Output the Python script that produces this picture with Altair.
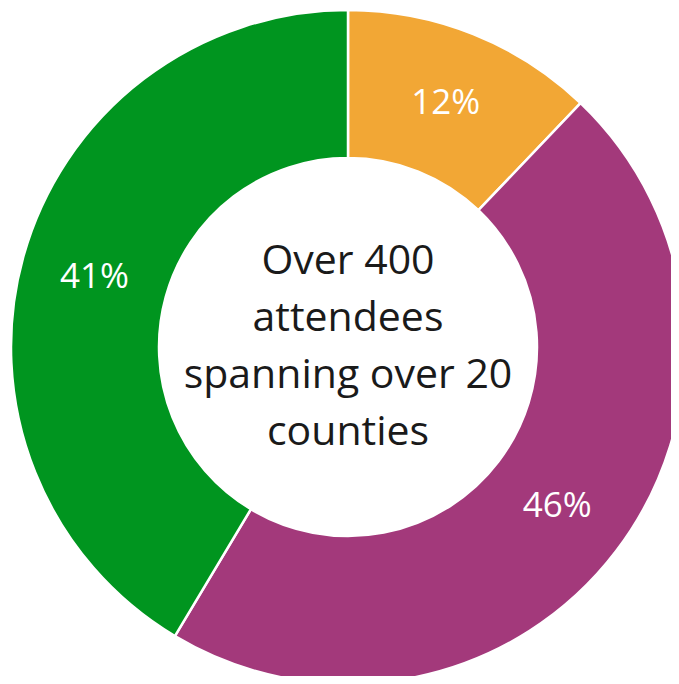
import altair as alt
import pandas as pd

segments = ["Segment A", "Segment B", "Segment C"]
shares = [12, 46, 41]
labels = ["12%", "46%", "41%"]
order_idx = [0, 1, 2]
colors = ["#F2A735", "#A3397B", "#00951F"]
center_lines = ["Over 400", "attendees", "spanning over 20", "counties"]

df = pd.DataFrame({"segment": segments, "share": shares, "label": labels, "idx": order_idx})

CX, CY = 340, 339
R_OUT, R_IN = 337, 189
LH = 57

base = alt.Chart(df).encode(
    theta=alt.Theta("share:Q", stack=True),
    order=alt.Order("idx:Q"),
    x=alt.value(CX),
    y=alt.value(CY),
)

arcs = base.mark_arc(
    outerRadius=R_OUT, innerRadius=R_IN, stroke="white", strokeWidth=2.5
).encode(
    color=alt.Color("segment:N", scale=alt.Scale(domain=segments, range=colors), legend=None)
)

pct = base.mark_text(
    radius=263, font="Open Sans", fontSize=35, color="white", baseline="middle", align="center"
).encode(text="label:N")

center = alt.Chart(pd.DataFrame({"t": [0]})).mark_text(
    font="Open Sans", fontSize=41, color="#1a1a1a", lineHeight=LH,
    baseline="middle", align="center"
).encode(
    x=alt.value(CX), y=alt.value(CY - 1.5 * LH), text=alt.value(center_lines)
)

chart = alt.layer(arcs, pct, center).properties(
    width=663, height=668, padding=0, autosize=alt.AutoSizeParams(type="none")
).configure_view(stroke=None)

chart.save("out.html", embed_options={"renderer": "svg", "actions": False})
